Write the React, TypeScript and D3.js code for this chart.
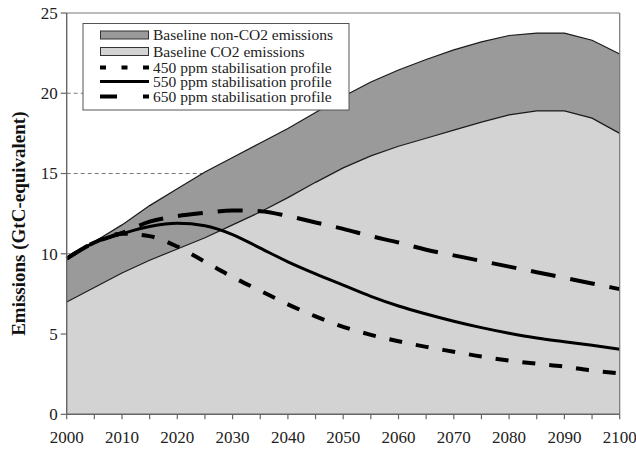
import React from "react";
import * as d3 from "d3";

const years = [2000, 2005, 2010, 2015, 2020, 2025, 2030, 2035, 2040, 2045, 2050, 2055, 2060, 2065, 2070, 2075, 2080, 2085, 2090, 2095, 2100];
const baselineCO2 = [7.0, 7.9, 8.8, 9.6, 10.3, 11.0, 11.8, 12.6, 13.5, 14.45, 15.35, 16.1, 16.7, 17.2, 17.7, 18.2, 18.65, 18.9, 18.9, 18.45, 17.5];
const baselineTotal = [9.7, 10.75, 11.8, 13.0, 14.05, 15.1, 16.0, 16.9, 17.8, 18.8, 19.8, 20.7, 21.45, 22.1, 22.7, 23.2, 23.6, 23.75, 23.75, 23.3, 22.45];
const ppm450 = [9.7, 10.7, 11.25, 11.1, 10.45, 9.5, 8.55, 7.7, 6.85, 6.1, 5.45, 4.95, 4.55, 4.2, 3.9, 3.6, 3.35, 3.15, 2.97, 2.72, 2.55];
const ppm550 = [9.7, 10.7, 11.25, 11.7, 11.9, 11.75, 11.2, 10.35, 9.5, 8.75, 8.05, 7.35, 6.75, 6.25, 5.8, 5.4, 5.05, 4.75, 4.52, 4.3, 4.05];
const ppm650 = [9.7, 10.7, 11.3, 12.0, 12.35, 12.55, 12.7, 12.65, 12.35, 11.95, 11.55, 11.1, 10.7, 10.25, 9.9, 9.55, 9.2, 8.85, 8.5, 8.15, 7.8];
const yTicks = [0, 5, 10, 15, 20, 25];
const xTickLabels = [2000, 2010, 2020, 2030, 2040, 2050, 2060, 2070, 2080, 2090, 2100];
const legendLabels = [
  "Baseline non-CO2 emissions",
  "Baseline CO2 emissions",
  "450 ppm stabilisation profile",
  "550 ppm stabilisation profile",
  "650 ppm stabilisation profile",
];

const W = 636, H = 449;
const left = 66.7, right = 619.7, top = 13, bottom = 414.3;
const FONT = '"Liberation Serif", "DejaVu Serif", serif';
const tf = { fontFamily: FONT };

export default function App() {
  const x = d3.scaleLinear().domain([2000, 2100]).range([left, right]);
  const y = d3.scaleLinear().domain([0, 25]).range([bottom, top]);
  const idx = years.map((_, i) => i);

  const areaTotal = d3.area<number>().x(i => x(years[i])).y0(i => y(baselineCO2[i])).y1(i => y(baselineTotal[i]));
  const areaCO2 = d3.area<number>().x(i => x(years[i])).y0(y(0)).y1(i => y(baselineCO2[i]));
  const lineOf = (arr: number[], curve: any = d3.curveLinear) => d3.line<number>().x(i => x(years[i])).y(i => y(arr[i])).curve(curve)(idx) || "";
  const smooth = (arr: number[]) => lineOf(arr, d3.curveMonotoneX);

  const minorTicks = d3.range(2000, 2101, 5);
  const dark = "#9a9a9a";
  const light = "#d3d3d3";
  const legendRows = [35, 51.5, 67.5, 81.5, 96.5];

  return (
    <svg width={W} height={H} style={{ position: "absolute", left: 0, top: 0, background: "#fff" }}>
      {[5, 10, 15, 20].map(v => (
        <line key={v} x1={left} x2={right} y1={y(v)} y2={y(v)} stroke="#555" strokeWidth={0.8} strokeDasharray="4,3" />
      ))}
      <path d={areaTotal(idx) || ""} fill={dark} />
      <path d={areaCO2(idx) || ""} fill={light} />
      <path d={lineOf(baselineTotal)} fill="none" stroke="#1a1a1a" strokeWidth={1.2} />
      <path d={lineOf(baselineCO2)} fill="none" stroke="#1a1a1a" strokeWidth={1.2} />
      <path d={smooth(ppm650)} fill="none" stroke="#000" strokeWidth={4} strokeDasharray="25,15" />
      <path d={smooth(ppm550)} fill="none" stroke="#000" strokeWidth={3} />
      <path d={smooth(ppm450)} fill="none" stroke="#000" strokeWidth={4} strokeDasharray="13,14" />
      <line x1={left} x2={right} y1={top} y2={top} stroke="#777" strokeWidth={1.2} />
      <line x1={right} x2={right} y1={top} y2={bottom} stroke="#777" strokeWidth={1.2} />
      <line x1={left} x2={left} y1={top} y2={bottom} stroke="#666" strokeWidth={1.4} />
      <line x1={left} x2={right} y1={bottom} y2={bottom} stroke="#666" strokeWidth={1.4} />
      {yTicks.map(v => (
        <g key={v}>
          <line x1={left - 6} x2={left} y1={y(v)} y2={y(v)} stroke="#666" strokeWidth={1.2} />
          <text x={left - 9} y={y(v)} dy="0.35em" textAnchor="end" fontSize={17} fill="#222" style={tf}>{v}</text>
        </g>
      ))}
      {minorTicks.map(v => (
        <line key={v} x1={x(v)} x2={x(v)} y1={bottom} y2={bottom + 5} stroke="#666" strokeWidth={1.2} />
      ))}
      {xTickLabels.map(v => (
        <text key={v} x={x(v)} y={443} textAnchor="middle" fontSize={17} fill="#222" style={tf}>{v}</text>
      ))}
      <text transform={`translate(25,${(top + bottom) / 2 + 10}) rotate(-90)`} textAnchor="middle" fontSize={19} fontWeight="bold" fill="#111" style={tf}>
        Emissions (GtC-equivalent)
      </text>
      <rect x={83} y={23.5} width={266} height={86.5} fill="#fff" stroke="#555" strokeWidth={1} />
      <rect x={100.5} y={legendRows[0] - 4} width={48} height={8} fill={dark} stroke="#333" strokeWidth={1} />
      <rect x={100.5} y={legendRows[1] - 4} width={48} height={8} fill={light} stroke="#333" strokeWidth={1} />
      <line x1={100} x2={149} y1={legendRows[2]} y2={legendRows[2]} stroke="#000" strokeWidth={4} strokeDasharray="6,15.5" />
      <line x1={100} x2={149} y1={legendRows[3]} y2={legendRows[3]} stroke="#000" strokeWidth={3} />
      <line x1={100} x2={149} y1={legendRows[4]} y2={legendRows[4]} stroke="#000" strokeWidth={4} strokeDasharray="17,26" />
      {legendLabels.map((t, i) => (
        <text key={t} x={153} y={legendRows[i]} dy="0.35em" fontSize={15.5} fill="#222" style={tf}>{t}</text>
      ))}
    </svg>
  );
}
